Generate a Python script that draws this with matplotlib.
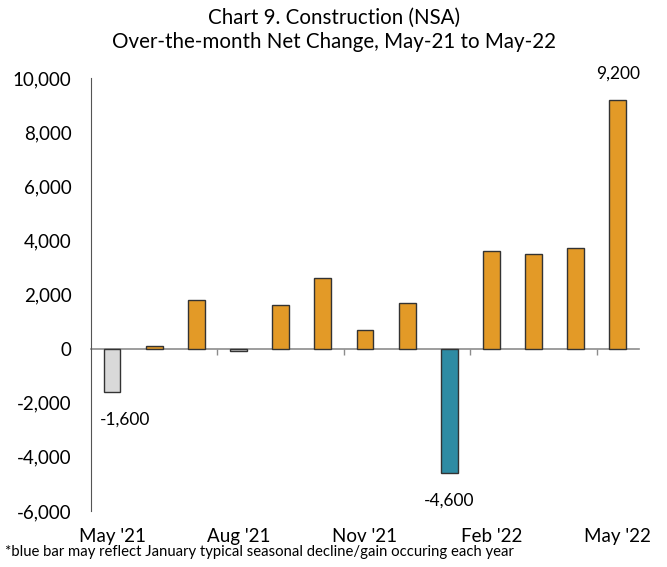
import matplotlib
matplotlib.use("Agg")
import matplotlib.pyplot as plt
from matplotlib.ticker import FuncFormatter

plt.rcParams['font.family'] = ['Lato', 'DejaVu Sans']

months = ["May '21", "Jun '21", "Jul '21", "Aug '21", "Sep '21", "Oct '21", "Nov '21",
          "Dec '21", "Jan '22", "Feb '22", "Mar '22", "Apr '22", "May '22"]
values = [-1600, 100, 1800, -100, 1600, 2600, 700, 1700, -4600, 3600, 3500, 3700, 9200]
bar_colors = ["#D9D9D9", "#E39A27", "#E39A27", "#D9D9D9", "#E39A27", "#E39A27", "#E39A27",
              "#E39A27", "#2E8BA3", "#E39A27", "#E39A27", "#E39A27", "#E39A27"]
shown_labels = {0: "-1,600", 8: "-4,600", 12: "9,200"}
xtick_idx = [0, 3, 6, 9, 12]
yticks = [-6000, -4000, -2000, 0, 2000, 4000, 6000, 8000, 10000]

fig = plt.figure(figsize=(6.67, 5.67), dpi=100)
ax = fig.add_axes([0.1364, 0.0988, 0.958 - 0.1364, 0.8624 - 0.0988])

x = list(range(len(values)))
ax.bar(x, values, width=0.4, color=bar_colors, edgecolor="#333333", linewidth=1.0, zorder=3)

ax.set_xlim(-0.5, len(values) - 0.5)
ax.set_ylim(-6000, 10000)
ax.set_yticks(yticks)
ax.yaxis.set_major_formatter(FuncFormatter(lambda v, p: f"{int(v):,}"))
ax.tick_params(axis='y', length=0, pad=14, labelsize=13.5)

for s in ['top', 'right']:
    ax.spines[s].set_visible(False)
ax.spines['left'].set_color("#555555")
ax.spines['bottom'].set_position(('data', 0))
ax.spines['bottom'].set_color("#8C8C8C")
ax.spines['bottom'].set_linewidth(1.2)
ax.spines['bottom'].set_zorder(2)
ax.set_xticks([2.5, 5.5, 8.5, 11.5])
ax.set_xticklabels([])
ax.tick_params(axis='x', length=4, color="#8C8C8C", direction='out', width=1)

sec = ax.secondary_xaxis(0.0)
sec.set_xticks(xtick_idx)
sec.set_xticklabels([months[i] for i in xtick_idx])
sec.tick_params(length=0, pad=12, labelsize=13.5)
sec.spines['bottom'].set_visible(False)

for i, lab in shown_labels.items():
    v = values[i]
    dx = 9.5 if i == 0 else 0
    dy = -20 if v < 0 else 19
    ax.annotate(lab, (i, v), xytext=(dx, dy), textcoords='offset points',
                ha='center', va='center', fontsize=12.5)

fig.text(0.5, 0.968, "Chart 9. Construction (NSA)", ha='center', va='center', fontsize=14.8)
fig.text(0.5, 0.926, "Over-the-month Net Change, May-21 to May-22", ha='center', va='center', fontsize=14.8)
fig.text(0.008, 0.026, "*blue bar may reflect January typical seasonal decline/gain occuring each year",
         ha='left', va='center', fontsize=10.7)

fig.savefig("out.png", dpi=100)
